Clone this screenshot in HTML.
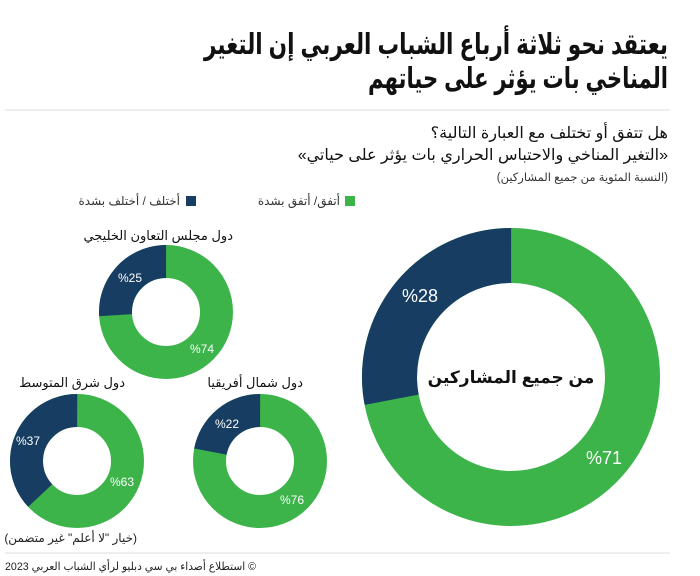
<!DOCTYPE html>
<html><head><meta charset="utf-8"><style>
body{margin:0;background:#fff;}
svg{display:block;font-family:"Liberation Sans","Noto Sans CJK SC","DejaVu Sans",sans-serif;}
</style></head><body>
<svg width="700" height="576" viewBox="0 0 700 576">
<rect width="700" height="576" fill="#fff"/>
<g direction="rtl" text-anchor="start" fill="#111">
<text x="668" y="54" font-size="29" font-weight="bold" textLength="464" lengthAdjust="spacingAndGlyphs">يعتقد نحو ثلاثة أرباع الشباب العربي إن التغير</text>
<text x="668" y="88" font-size="29" font-weight="bold" textLength="300" lengthAdjust="spacingAndGlyphs">المناخي بات يؤثر على حياتهم</text>
<text x="668" y="138" font-size="16">هل تتفق أو تختلف مع العبارة التالية؟</text>
<text x="668" y="160" font-size="16">«التغير المناخي والاحتباس الحراري بات يؤثر على حياتي»</text>
<text x="668" y="181" font-size="11.5" fill="#333">(النسبة المئوية من جميع المشاركين)</text>
<text x="340" y="205" font-size="12" fill="#333">أتفق/ أتفق بشدة</text>
<text x="180" y="205" font-size="12" fill="#333">أختلف / أختلف بشدة</text>
<text x="233" y="240" font-size="13">دول مجلس التعاون الخليجي</text>
<text x="125" y="387" font-size="13">دول شرق المتوسط</text>
<text x="303" y="387" font-size="13">دول شمال أفريقيا</text>
<text x="137" y="542" font-size="12" fill="#222">(خيار "لا أعلم" غير متضمن)</text>
</g>
<text x="5" y="570" font-size="11" fill="#222" textLength="251" lengthAdjust="spacingAndGlyphs">2023 استطلاع أصداء بي سي دبليو لرأي الشباب العربي  ©</text>
<rect x="345" y="196" width="10" height="10" fill="#3cb44a"/>
<rect x="186" y="196" width="10" height="10" fill="#173d62"/>
<line x1="5" y1="110" x2="670" y2="110" stroke="#ddd" stroke-width="1"/>
<line x1="5" y1="553" x2="670" y2="553" stroke="#ddd" stroke-width="1"/>

<circle cx="511" cy="377" r="121.5" fill="none" stroke="#3cb44a" stroke-width="55"/>
<circle cx="511" cy="377" r="121.5" fill="none" stroke="#173d62" stroke-width="55" stroke-dasharray="213.8 1000" transform="rotate(-190.8 511 377)"/>
<circle cx="166" cy="312" r="50.5" fill="none" stroke="#3cb44a" stroke-width="33"/>
<circle cx="166" cy="312" r="50.5" fill="none" stroke="#173d62" stroke-width="33" stroke-dasharray="82.5 1000" transform="rotate(-183.6 166 312)"/>
<circle cx="77" cy="461" r="50.5" fill="none" stroke="#3cb44a" stroke-width="33"/>
<circle cx="77" cy="461" r="50.5" fill="none" stroke="#173d62" stroke-width="33" stroke-dasharray="117.4 1000" transform="rotate(-223.2 77 461)"/>
<circle cx="260" cy="461" r="50.5" fill="none" stroke="#3cb44a" stroke-width="33"/>
<circle cx="260" cy="461" r="50.5" fill="none" stroke="#173d62" stroke-width="33" stroke-dasharray="69.8 1000" transform="rotate(-169.2 260 461)"/>

<g fill="#fff" text-anchor="middle">
<text x="420" y="302" font-size="18">%28</text>
<text x="604" y="464" font-size="18">%71</text>
<text x="130" y="282" font-size="12">%25</text>
<text x="202" y="353" font-size="12">%74</text>
<text x="28" y="445" font-size="12">%37</text>
<text x="122" y="486" font-size="12">%63</text>
<text x="227" y="428" font-size="12">%22</text>
<text x="292" y="504" font-size="12">%76</text>
</g>
<text x="511" y="383" font-size="17" font-weight="bold" text-anchor="middle" fill="#111">من جميع المشاركين</text>
</svg>
</body></html>
